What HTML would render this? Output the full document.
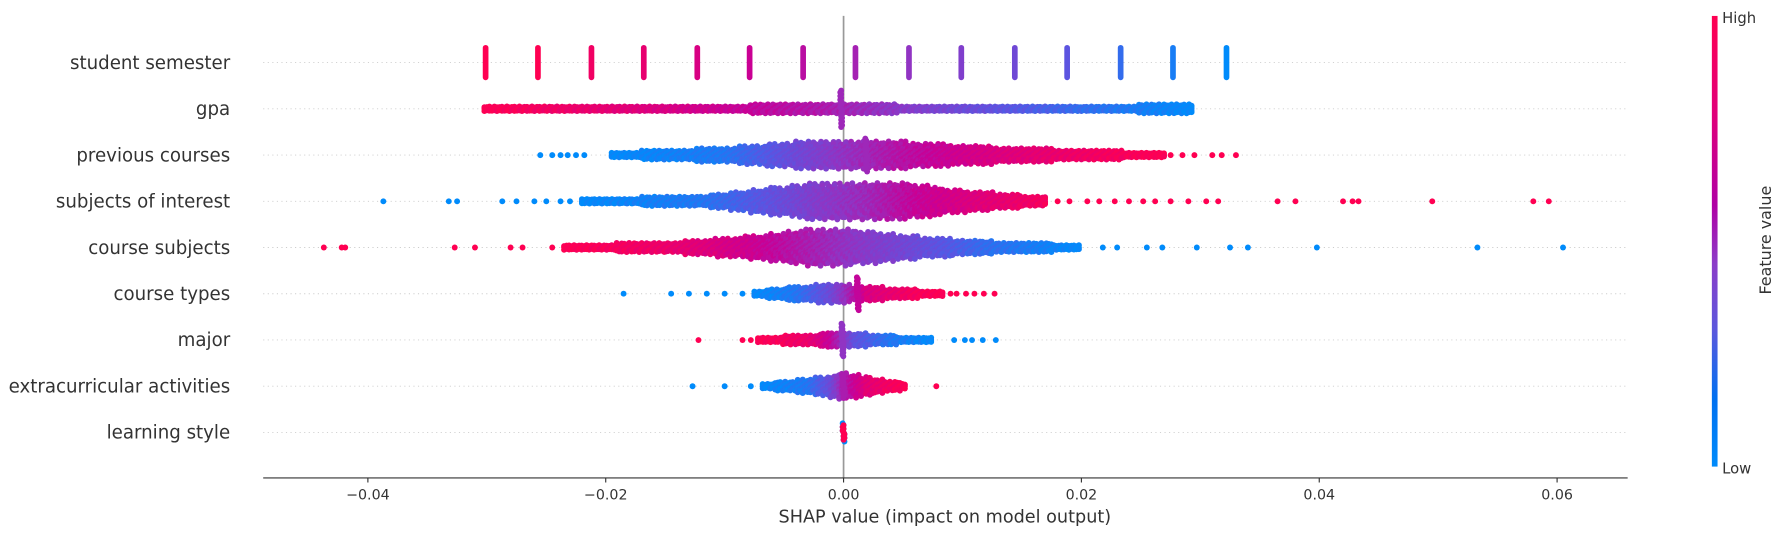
<!DOCTYPE html>
<html><head><meta charset="utf-8"><style>
html,body{margin:0;padding:0;background:#fff;}
svg{display:block;font-family:"DejaVu Sans","Liberation Sans",sans-serif;}
</style></head><body>
<svg id="chart" width="1785" height="536" viewBox="0 0 1568 471" xmlns="http://www.w3.org/2000/svg">
<defs>
<linearGradient id="cbar" x1="0" y1="1" x2="0" y2="0">
<stop offset="0" stop-color="#008bfb"/><stop offset="0.15" stop-color="#0070f0"/>
<stop offset="0.3" stop-color="#5a58dd"/><stop offset="0.45" stop-color="#8c3cc8"/>
<stop offset="0.58" stop-color="#b000a4"/><stop offset="0.78" stop-color="#e0007a"/>
<stop offset="1" stop-color="#ff0052"/></linearGradient>
</defs>
<g id="grid"></g>
<g id="dots"></g>
<g id="axis"></g>
<rect x="1504" y="14" width="5" height="396" fill="url(#cbar)"/>
<text x="1513" y="20" font-size="13" fill="#333">High</text>
<text x="1513" y="416" font-size="13" fill="#333">Low</text>
<text transform="translate(1556,211) rotate(-90)" text-anchor="middle" font-size="14" fill="#333">Feature value</text>
<text x="830" y="459" text-anchor="middle" font-size="15.5" fill="#333">SHAP value (impact on model output)</text>
</svg>
<script>
const features = ["student semester","gpa","previous courses","subjects of interest","course subjects","course types","major","extracurricular activities","learning style"];
const xTicks = [-0.04,-0.02,0,0.02,0.04,0.06];
const xTickLabels = ["\u22120.04","\u22120.02","0.00","0.02","0.04","0.06"];
// semester bars: shap value, feature value
const semesterVals = [-0.0301,-0.0257,-0.0212,-0.0168,-0.0123,-0.0079,-0.0034,0.001,0.0055,0.0099,0.0144,0.0188,0.0233,0.0277,0.0322];
const semesterFv = [1,1,0.93,0.88,0.8,0.73,0.66,0.58,0.5,0.43,0.36,0.28,0.15,0.07,0];
// band knots per row: [shap, half-thickness (dot units), feature value]
const bands = [
 [],
 [[-0.0302,1.2,1],[-0.015,1.2,0.8],[-0.001,1.3,0.6],[0.01,1.2,0.35],[0.02,1.2,0.15],[0.0293,1.3,0]],
 [[-0.0195,1,0],[-0.01,2,0.1],[-0.004,3.3,0.35],[0,3.3,0.5],[0.005,3.3,0.65],[0.012,2.3,0.8],[0.02,1.5,0.92],[0.027,1,1]],
 [[-0.022,1,0],[-0.012,1.5,0.1],[-0.006,3.3,0.3],[-0.002,4.7,0.45],[0.002,4.7,0.55],[0.006,4.2,0.7],[0.01,2.8,0.8],[0.017,1.3,0.95]],
 [[-0.0235,1,1],[-0.015,1.5,0.9],[-0.008,2.8,0.75],[-0.003,4.3,0.6],[0.001,4.3,0.48],[0.006,2.8,0.35],[0.012,1.8,0.15],[0.02,1,0]],
 [[-0.0075,1,0],[-0.004,2,0.1],[-0.001,2.5,0.35],[0.002,2,0.8],[0.006,1.3,0.95],[0.0085,1,1]],
 [[-0.0072,1,1],[-0.003,1.5,0.9],[-0.001,2,0.7],[0.001,2,0.3],[0.004,1.3,0.1],[0.0075,1,0]],
 [[-0.0068,1,0],[-0.003,2,0.1],[-0.001,3,0.35],[0,3.5,0.6],[0.002,2.5,0.85],[0.0053,1,1]],
 []
];
// outlier points per row: shap values and feature values
const outX = [[],[],
 [-0.0255,-0.0245,-0.0238,-0.0232,-0.0225,-0.0218,0.0275,0.0285,0.0295,0.031,0.0318,0.033],
 [-0.0387,-0.0332,-0.0325,-0.0287,-0.0275,-0.026,-0.025,-0.0238,-0.023,0.018,0.019,0.0205,0.0215,0.0228,0.024,0.0252,0.0262,0.0275,0.029,0.0305,0.0315,0.0365,0.038,0.042,0.0428,0.0433,0.0495,0.058,0.0593],
 [-0.0437,-0.0422,-0.0419,-0.0327,-0.031,-0.028,-0.027,-0.0245,0.0218,0.023,0.0255,0.0268,0.0297,0.0325,0.034,0.0398,0.0533,0.0605],
 [-0.0185,-0.0145,-0.013,-0.0115,-0.01,-0.0085,0.009,0.0095,0.0103,0.011,0.0118,0.0127],
 [-0.0122,-0.0085,-0.0078,0.0093,0.0102,0.0108,0.0117,0.0128],
 [-0.0127,-0.01,-0.0078,0.0078],
 []];
const outFv = [[],[],
 [0,0,0,0,0,0,1,1,1,1,1,1],
 [0,0,0,0,0,0,0,0,0,1,1,1,1,1,1,1,1,1,1,1,1,1,1,1,1,1,1,1,1],
 [1,1,1,1,1,1,1,1,0,0,0,0,0,0,0,0,0,0],
 [0,0,0,0,0,0,1,1,1,1,1,1],
 [1,1,1,0,0,0,0,0],
 [0,0,0,1],
 []];
// vertical spikes: row, shap, half-count, fv
const spikeRow = [1,2,5,6,7,8,8];
const spikeX = [-0.0002,0.0019,0.0012,-0.0001,0,0,0];
const spikeN = [5,4.5,4.5,4.5,3,2.5,2];
const spikeFv = [0.55,0.55,0.7,0.5,0.6,0,1];

const X0=741, PXU=10450;
function xs(v){return X0+v*PXU;}
const rowY=[55,96,137,177,217,258,298,339,380];
function ys(i){return rowY[0]+i*(rowY[8]-rowY[0])/8;}
const stops=[[0,[0,139,251]],[0.25,[85,88,228]],[0.5,[145,52,195]],[0.72,[200,0,150]],[1,[255,0,82]]];
function col(f){f=Math.max(0,Math.min(1,f));for(let i=1;i<stops.length;i++){if(f<=stops[i][0]){const a=stops[i-1],b=stops[i],t=(f-a[0])/(b[0]-a[0]);return 'rgb('+a[1].map((c,k)=>Math.round(c+(b[1][k]-c)*t)).join(',')+')';}}return 'rgb(255,0,82)';}
const NS="http://www.w3.org/2000/svg";
const grid=document.getElementById('grid'),dots=document.getElementById('dots'),axis=document.getElementById('axis');
function mk(tag,attrs,parent){const e=document.createElementNS(NS,tag);for(const k in attrs)e.setAttribute(k,attrs[k]);parent.appendChild(e);return e;}
features.forEach((f,i)=>{
 const y=ys(i);
 const g=mk('line',{x1:231,x2:1430,y1:y,y2:y,stroke:'#ccc','stroke-width':0.8,'stroke-dasharray':'1,3'},grid);
 
 
 const t=mk('text',{x:202,y:y+5.5,'text-anchor':'end','font-size':16,fill:'#333'},axis);
 t.textContent=f;
 
 
});
const zl=mk('line',{x1:X0,x2:X0,y1:14,y2:420,stroke:'#999','stroke-width':1.5},grid);


function dot(x,y,fv){const c=mk('circle',{cx:x.toFixed(1),cy:y.toFixed(1),r:2.6,fill:col(fv)},dots);
 
 }
bands.forEach((kn,i)=>{
 if(!kn.length)return;const y=ys(i);
 for(let j=0;j<kn.length-1;j++){
  const a=kn[j],b=kn[j+1];const xa=xs(a[0]),xb=xs(b[0]);
  for(let x=xa;x<xb;x+=2.2){const t=(x-xa)/(xb-xa);const h=a[1]+(b[1]-a[1])*t;const fv=a[2]+(b[2]-a[2])*t;
   const n=Math.max(0,Math.round(h*2-1));
   for(let k=-n;k<=n;k++){const off=k*1.6*(1+0.25*Math.sin(x*1.7+k));dot(x,y+off,fv+0.04*Math.sin(x*0.9+k*2));}
  }
 }
});
outX.forEach((arr,i)=>arr.forEach((v,j)=>dot(xs(v),ys(i),outFv[i][j])));
spikeX.forEach((v,j)=>{const y=ys(spikeRow[j]);const n=Math.round(spikeN[j]*2);for(let k=-n;k<=n;k++)dot(xs(v)+(k%2)*0.8,y+k*1.6,spikeFv[j]);});
semesterVals.forEach((v,j)=>{const b=mk('line',{x1:xs(v),x2:xs(v),y1:ys(0)-13,y2:ys(0)+13,stroke:col(semesterFv[j]),'stroke-width':5,'stroke-linecap':'round'},dots);
 
 });
const ax=mk('line',{x1:231,x2:1430,y1:420,y2:420,stroke:'#333','stroke-width':1},axis);


xTicks.forEach((v,j)=>{const x=xs(v);
 const tk=mk('line',{x1:x,x2:x,y1:420,y2:424,stroke:'#333','stroke-width':1},axis);
 
 
 const t=mk('text',{x:x,y:439,'text-anchor':'middle','font-size':12.5,fill:'#333'},axis);t.textContent=xTickLabels[j];
 
 });
</script>
</body></html>
